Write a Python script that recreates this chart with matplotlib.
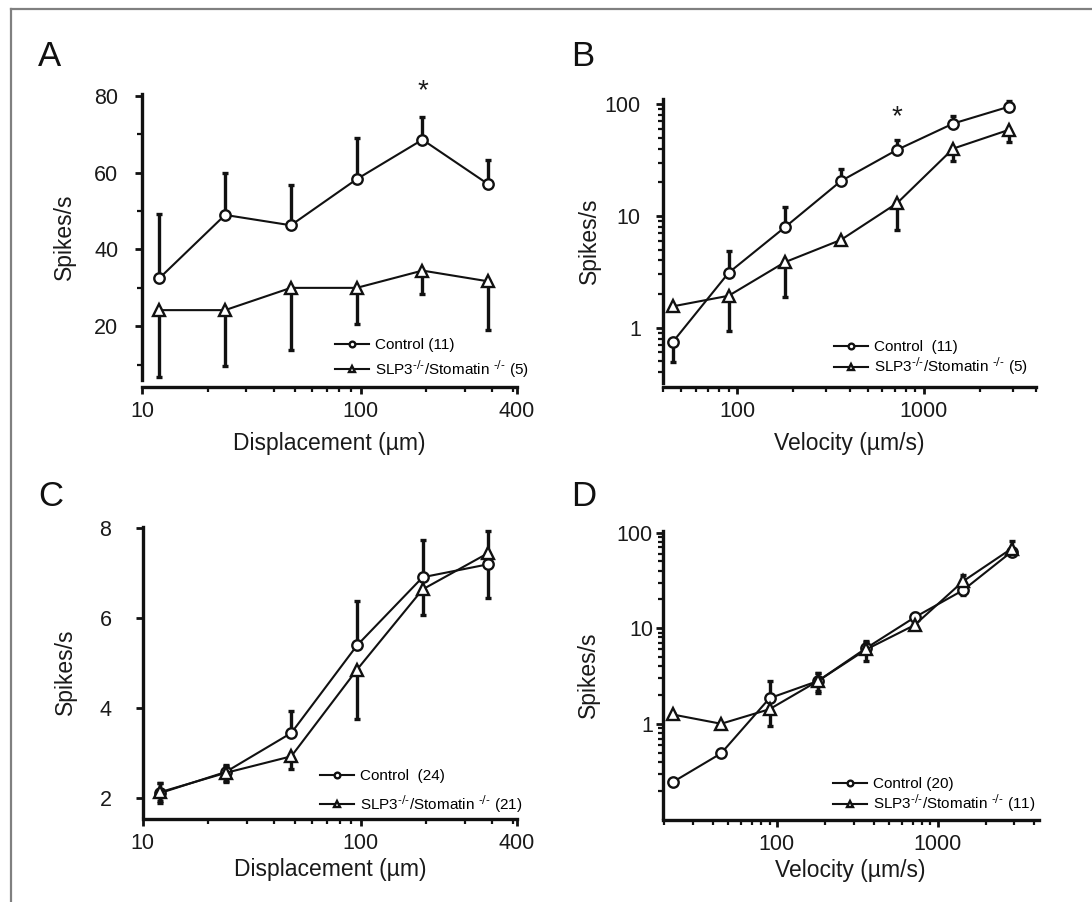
import matplotlib
matplotlib.use("Agg")
import matplotlib.pyplot as plt
from matplotlib.lines import Line2D
from matplotlib.ticker import NullFormatter, MultipleLocator

plt.rcParams['font.family'] = ['Liberation Sans', 'DejaVu Sans']

# Data
disp = [12, 24, 48, 96, 192, 384]
vel_b = [45, 90, 180, 360, 720, 1440, 2880]
vel_d = [22.5, 45, 90, 180, 360, 720, 1440, 2880]

# A - displacement, n = 11 / 5
a_ctrl = [32.5, 49, 46.3, 58.3, 68.6, 57]
a_ctrl_up = [16.7, 10.9, 10.5, 10.8, 6, 6.3]
a_ctrl_dn = [0, 0, 0, 0, 0, 0]
a_slp = [24.2, 24.2, 30, 30, 34.5, 31.7]
a_slp_up = [0, 0, 0, 0, 0, 0]
a_slp_dn = [17.5, 14.6, 16.3, 9.4, 6, 12.6]

# B - velocity, n = 11 / 5
b_ctrl = [0.74, 3.1, 7.9, 20.5, 39, 67, 95]
b_ctrl_up = [0, 1.8, 4.2, 5.8, 9, 12, 12]
b_ctrl_dn = [0.25, 0, 0, 0, 0, 0, 0]
b_slp = [1.55, 1.93, 3.85, 6.1, 13, 40, 59]
b_slp_up = [0, 0, 0, 0, 0, 0, 0]
b_slp_dn = [0, 1.0, 1.95, 0, 5.6, 9, 13]

# C - displacement, n = 24 / 21
c_ctrl = [2.1, 2.57, 3.44, 5.39, 6.91, 7.2]
c_ctrl_up = [0.22, 0.15, 0.5, 1.0, 0.82, 0]
c_ctrl_dn = [0.22, 0.2, 0, 0, 0, 0.75]
c_slp = [2.12, 2.55, 2.92, 4.85, 6.64, 7.45]
c_slp_up = [0.2, 0.15, 0, 0, 0, 0.5]
c_slp_dn = [0.2, 0.2, 0.28, 1.1, 0.58, 0]

# D - velocity, n = 20 / 11
d_ctrl = [0.245, 0.49, 1.85, 2.8, 6.2, 13, 25, 63]
d_ctrl_up = [0, 0, 0.95, 0.6, 1.1, 1.4, 0, 0]
d_ctrl_dn = [0, 0, 0, 0.7, 1.7, 0, 2.5, 4]
d_slp = [1.25, 1.0, 1.42, 2.8, 6.0, 10.8, 31, 68]
d_slp_up = [0, 0, 0, 0.6, 1.2, 0, 5, 13]
d_slp_dn = [0, 0, 0.47, 0.6, 0, 0, 0, 0]

SLP = r'SLP3$^{\text{-/-}}$/Stomatin $^{\text{-/-}}$'

W, H = 1092, 902
fig = plt.figure(figsize=(W / 100, H / 100), dpi=100)


def px_axes(left, top, right, bottom):
    return fig.add_axes([left / W, 1 - bottom / H, (right - left) / W, (bottom - top) / H])


def draw(ax, x, ctrl, c_dn, c_up, slp, s_dn, s_up):
    ax.errorbar(x, ctrl, yerr=[c_dn, c_up], fmt='none', ecolor='#111111',
                elinewidth=2.4, capsize=2.2, capthick=2.4, zorder=1)
    ax.errorbar(x, slp, yerr=[s_dn, s_up], fmt='none', ecolor='#111111',
                elinewidth=2.4, capsize=2.2, capthick=2.4, zorder=1)
    l1, = ax.plot(x, ctrl, '-o', color='#111111', lw=1.5, ms=7.5, mfc='white',
                  mec='#111111', mew=1.7, zorder=3)
    l2, = ax.plot(x, slp, '-^', color='#111111', lw=1.5, ms=9, mfc='white',
                  mec='#111111', mew=1.7, zorder=3)
    return l1, l2


def style(ax, offset, ypad):
    for s in ['top', 'right']:
        ax.spines[s].set_visible(False)
    for s in ['left', 'bottom']:
        ax.spines[s].set_linewidth(2.4)
        ax.spines[s].set_color('#111111')
    ax.spines['bottom'].set_position(('outward', offset))
    ax.tick_params(which='major', length=5, width=2, labelsize=15.5, color='#111111',
                   labelcolor='#1a1a1a')
    ax.tick_params(axis='x', which='major', pad=5)
    ax.tick_params(axis='y', which='major', pad=ypad)
    ax.tick_params(which='minor', length=3.5, width=1.6, color='#111111')
    ax.xaxis.set_minor_formatter(NullFormatter())
    ax.set_facecolor('none')


def legend(ax, handles, labels, x, y, spacing):
    ax.legend(handles, labels, loc='upper left', bbox_to_anchor=(x / W, 1 - y / H),
              bbox_transform=fig.transFigure, frameon=False, fontsize=11,
              handlelength=2.2, handletextpad=0.45, borderpad=0, borderaxespad=0,
              labelspacing=spacing, markerscale=0.55)


# ---------- A ----------
axA = px_axes(142, 94, 517, 380)
hA = draw(axA, disp, a_ctrl, a_ctrl_dn, a_ctrl_up, a_slp, a_slp_dn, a_slp_up)
axA.set_xscale('log')
axA.set_xlim(10, 520)
axA.set_ylim(6, 80.5)
axA.set_xticks([10, 100, 520], ['10', '100', '400'])
axA.set_yticks([20, 40, 60, 80])
axA.yaxis.set_minor_locator(MultipleLocator(10))
style(axA, 5, 12)
axA.set_xlabel('Displacement (µm)', fontsize=16.5, labelpad=7, color='#1a1a1a')
axA.set_ylabel('Spikes/s', fontsize=16.5, labelpad=13.5, color='#1a1a1a')
axA.text(disp[4], 81.3, '*', ha='center', va='center', fontsize=20, color='#1a1a1a')
legend(axA, hA, ['Control (11)', SLP + ' (5)'], 335, 338, 0.4)

# ---------- B ----------
axB = px_axes(663, 99, 1036, 383)
hB = draw(axB, vel_b, b_ctrl, b_ctrl_dn, b_ctrl_up, b_slp, b_slp_dn, b_slp_up)
axB.set_xscale('log')
axB.set_yscale('log')
axB.set_xlim(40, 4000)
axB.set_ylim(0.32, 111)
axB.set_xticks([100, 1000], ['100', '1000'])
axB.set_yticks([1, 10, 100], ['1', '10', '100'])
style(axB, 3, 11)
axB.yaxis.set_minor_formatter(NullFormatter())
axB.set_xlabel('Velocity (µm/s)', fontsize=16.5, labelpad=7, color='#1a1a1a')
axB.set_ylabel('Spikes/s', fontsize=16.5, labelpad=2.5, color='#1a1a1a')
axB.text(vel_b[4], 76, '*', ha='center', va='center', fontsize=20, color='#1a1a1a')
legend(axB, hB, ['Control  (11)', SLP + ' (5)'], 834, 340, 0.08)

# ---------- C ----------
axC = px_axes(142.7, 527, 517, 816)
hC = draw(axC, disp, c_ctrl, c_ctrl_dn, c_ctrl_up, c_slp, c_slp_dn, c_slp_up)
axC.set_xscale('log')
axC.set_xlim(10, 520)
axC.set_ylim(1.59, 8.03)
axC.set_xticks([10, 100, 520], ['10', '100', '400'])
axC.set_yticks([2, 4, 6, 8])
style(axC, 2, 17.5)
axC.set_xlabel('Displacement (µm)', fontsize=16.5, labelpad=3, color='#1a1a1a')
axC.set_ylabel('Spikes/s', fontsize=16.5, labelpad=16, color='#1a1a1a')
legend(axC, hC, ['Control  (24)', SLP + ' (21)'], 320, 769, 0.65)

# ---------- D ----------
axD = px_axes(662.7, 531, 1038.7, 817.7)
hD = draw(axD, vel_d, d_ctrl, d_ctrl_dn, d_ctrl_up, d_slp, d_slp_dn, d_slp_up)
axD.set_xscale('log')
axD.set_yscale('log')
axD.set_xlim(19.5, 4250)
axD.set_ylim(0.104, 104)
axD.set_xticks([100, 1000], ['100', '1000'])
axD.set_yticks([1, 10, 100], ['1', '10', '100'])
style(axD, 1.5, 2)
axD.yaxis.set_minor_formatter(NullFormatter())
axD.set_xlabel('Velocity (µm/s)', fontsize=16.5, labelpad=3, color='#1a1a1a')
axD.set_ylabel('Spikes/s', fontsize=16.5, labelpad=12.5, color='#1a1a1a')
legend(axD, hD, ['Control (20)', SLP + ' (11)'], 833, 777, 0.1)

# panel letters
for lab, x, y in [('A', 38, 56), ('B', 571, 56), ('C', 38, 496), ('D', 571, 496)]:
    fig.text(x / W, 1 - y / H, lab, fontsize=25, va='center', ha='left', color='#111111')

# frame (top and left only, as in the source)
fig.add_artist(Line2D([10.5 / W, 10.5 / W], [0, 1 - 8.5 / H], color='#808080', lw=1.6))
fig.add_artist(Line2D([10.5 / W, 1], [1 - 8.5 / H, 1 - 8.5 / H], color='#808080', lw=1.6))

fig.savefig('out.png', dpi=100)
